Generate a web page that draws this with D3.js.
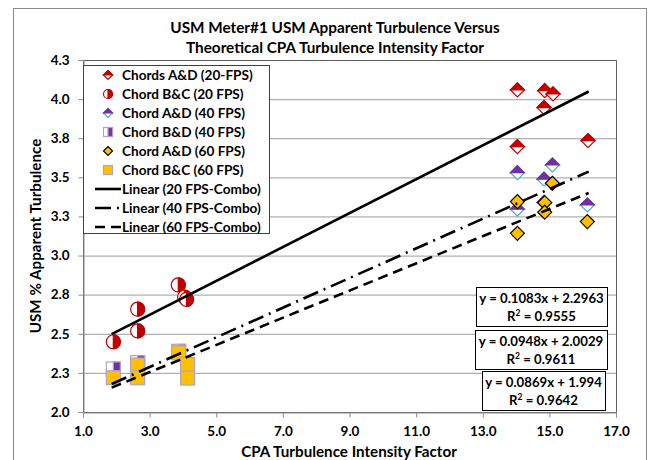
<!DOCTYPE html>
<html lang="en">
<head>
<meta charset="UTF-8">
<title>USM Apparent Turbulence</title>
<script src="https://d3js.org/d3.v7.min.js"></script>
<style>
  body { margin: 0; background: #fff; }
  text { font-family: Lato, "Open Sans", sans-serif; font-weight: bold; fill: #000; }
</style>
</head>
<body>
<script>
    // tick values and their printed labels (Excel rounds 2.25 -> 2.3)
    var yTicks = [2.0, 2.25, 2.5, 2.75, 3.0, 3.25, 3.5, 3.75, 4.0, 4.25];
    var yTickLabels = ["2.0", "2.3", "2.5", "2.8", "3.0", "3.3", "3.5", "3.8", "4.0", "4.3"];
    var xTicks = [1, 3, 5, 7, 9, 11, 13, 15, 17];
    var xTickLabels = ["1.0", "3.0", "5.0", "7.0", "9.0", "11.0", "13.0", "15.0", "17.0"];

    // Chords A&D (20-FPS)
    var ad20X = [14.04, 14.86, 15.11, 14.84, 14.04, 16.16];
    var ad20Y = [4.059, 4.054, 4.033, 3.946, 3.696, 3.735];
    // Chord B&C (20 FPS)
    var bc20X = [1.91, 2.64, 2.64, 3.86, 4.05, 4.11];
    var bc20Y = [2.449, 2.657, 2.518, 2.812, 2.735, 2.72];
    // Chord A&D (40 FPS)
    var ad40X = [14.04, 15.09, 14.84, 14.04, 14.84, 16.14];
    var ad40Y = [3.530, 3.579, 3.488, 3.296, 3.34, 3.323];
    // Chord B&D (40 FPS)
    var bd40X = [1.91, 2.64, 3.87];
    var bd40Y = [2.275, 2.315, 2.388];
    // Chord A&D (60 FPS)
    var ad60X = [14.04, 15.09, 14.86, 14.86, 14.04, 16.14];
    var ad60Y = [3.345, 3.462, 3.338, 3.277, 3.142, 3.217];
    // Chord B&C (60 FPS)
    var bc60X = [1.91, 2.64, 2.64, 3.87, 4.14, 4.14];
    var bc60Y = [2.219, 2.30, 2.219, 2.379, 2.304, 2.217];

    // linear trendlines
    var trendNames = ["Linear (20 FPS-Combo)", "Linear (40 FPS-Combo)", "Linear (60 FPS-Combo)"];
    var trendSlope = [0.1083, 0.0948, 0.0869];
    var trendIntercept = [2.2963, 2.0029, 1.994];
    var trendR2 = ["0.9555", "0.9611", "0.9642"];
    var trendXRange = [1.86, 16.18];

    var w = 649, h = 460;
    // note: "top" is reserved on window, so plot edges get their own names
    var plotL = 83, plotR = 616, plotT = 60, plotB = 412;

    var red = "#c00000", purple = "#7030a0", teal = "#4bacc6", gold = "#ffc000", lilac = "#b3a2c7";

    var svg = d3.select("body").append("svg")
                .attr("width", w)
                .attr("height", h);

    // chart area border
    svg.append("rect")
        .attr("x", 13.5).attr("y", 8.5)
        .attr("width", 633).attr("height", 470)
        .attr("fill", "#fff").attr("stroke", "#8c8c8c");

    var x = d3.scaleLinear().domain([1, 17]).range([plotL, plotR]);
    var y = d3.scaleLinear().domain([2, 4.25]).range([plotB, plotT]);

    // gridlines
    svg.append("g")
        .selectAll("line")
        .data(yTicks.slice(1, -1))
        .join("line")
        .attr("x1", plotL).attr("x2", plotR)
        .attr("y1", d => y(d) + 0.5).attr("y2", d => y(d) + 0.5)
        .attr("stroke", "#b0b0b0").attr("stroke-width", 1.3);

    // plot frame
    svg.append("rect")
        .attr("x", plotL + 0.5).attr("y", plotT + 0.5)
        .attr("width", plotR - plotL).attr("height", plotB - plotT)
        .attr("fill", "none").attr("stroke", "#606060");

    // axes
    var xAxis = d3.axisBottom(x).tickValues(xTicks)
                  .tickFormat((d, i) => xTickLabels[i]).tickSize(5).tickPadding(9);
    var gx = svg.append("g").attr("transform", "translate(0," + (plotB + 0.5) + ")").call(xAxis);
    var yAxis = d3.axisLeft(y).tickValues(yTicks)
                  .tickFormat((d, i) => yTickLabels[i]).tickSize(5).tickPadding(9);
    var gy = svg.append("g").attr("transform", "translate(" + (plotL + 0.5) + ",0)").call(yAxis);
    [gx, gy].forEach(function(g) {
        g.select(".domain").attr("stroke", "#8c8c8c");
        g.selectAll(".tick line").attr("stroke", "#8c8c8c");
        g.selectAll(".tick text").attr("font-size", 13.5).style("font-family", "Lato, sans-serif").style("font-weight", "bold");
    });

    // titles
    var title = svg.append("text").attr("text-anchor", "middle").attr("font-size", 15.3);
    title.append("tspan").attr("x", 335).attr("y", 33).text("USM Meter#1 USM Apparent Turbulence Versus");
    title.append("tspan").attr("x", 335).attr("y", 53).text("Theoretical CPA Turbulence Intensity Factor");

    svg.append("text")
        .attr("x", 349).attr("y", 457)
        .attr("text-anchor", "middle").attr("font-size", 15.2)
        .text("CPA Turbulence Intensity Factor");

    svg.append("text")
        .attr("transform", "translate(41," + ((plotT + plotB) / 2) + ") rotate(-90)")
        .attr("text-anchor", "middle").attr("font-size", 15.2)
        .text("USM % Apparent Turbulence");

    // marker painters
    function diamond(g, s, topFill, bottomFill, stroke) {
        var r = s / 2;
        g.append("path").attr("d", `M0,${-r}L${r},0L0,${r}L${-r},0Z`)
            .attr("fill", bottomFill).attr("stroke", stroke).attr("stroke-width", 1.2);
        if (topFill) {
            g.append("path").attr("d", `M0,${-r}L${r},0L${-r},0Z`)
                .attr("fill", topFill).attr("stroke", topFill).attr("stroke-width", 1.2);
        }
    }
    function halfCircle(g, s) {
        var r = s / 2;
        g.append("circle").attr("r", r).attr("fill", "#fff").attr("stroke", red).attr("stroke-width", 1.2);
        g.append("path").attr("d", `M0,${-r}A${r},${r} 0 0 1 0,${r}Z`).attr("fill", red).attr("stroke", red).attr("stroke-width", 1.2);
    }
    function halfSquare(g, s) {
        var r = s / 2;
        g.append("rect").attr("x", -r).attr("y", -r).attr("width", s).attr("height", s)
            .attr("fill", "#fff").attr("stroke", lilac).attr("stroke-width", 1.2);
        g.append("rect").attr("x", 0).attr("y", -r).attr("width", r).attr("height", s)
            .attr("fill", purple).attr("stroke", lilac).attr("stroke-width", 1.2);
    }
    function goldSquare(g, s) {
        var r = s / 2;
        g.append("rect").attr("x", -r).attr("y", -r).attr("width", s).attr("height", s)
            .attr("fill", gold).attr("stroke", lilac).attr("stroke-width", 1.2);
    }

    var series = [
        { name: "Chords A&D (20-FPS)", xs: ad20X, ys: ad20Y, draw: (g, s) => diamond(g, s, red, "#fff", red) },
        { name: "Chord B&C (20 FPS)",  xs: bc20X, ys: bc20Y, draw: (g, s) => halfCircle(g, s) },
        { name: "Chord A&D (40 FPS)",  xs: ad40X, ys: ad40Y, draw: (g, s) => diamond(g, s, purple, "#fff", teal) },
        { name: "Chord B&D (40 FPS)",  xs: bd40X, ys: bd40Y, draw: (g, s) => halfSquare(g, s) },
        { name: "Chord A&D (60 FPS)",  xs: ad60X, ys: ad60Y, draw: (g, s) => diamond(g, s, null, gold, "#000") },
        { name: "Chord B&C (60 FPS)",  xs: bc60X, ys: bc60Y, draw: (g, s) => goldSquare(g, s) }
    ];

    var dashes = [null, "16,6,2,6", "10,6"];

    // points
    var pts = svg.append("g");
    series.forEach(function(sr) {
        sr.xs.forEach(function(xv, i) {
            var g = pts.append("g").attr("transform", `translate(${x(xv)},${y(sr.ys[i])})`);
            sr.draw(g, 14);
        });
    });

    // trendlines
    var line = d3.line().x(d => x(d[0])).y(d => y(d[1]));
    trendSlope.forEach(function(m, i) {
        var pts2 = trendXRange.map(xv => [xv, m * xv + trendIntercept[i]]);
        svg.append("path").attr("d", line(pts2))
            .attr("fill", "none").attr("stroke", "#000").attr("stroke-width", 2.6)
            .attr("stroke-dasharray", dashes[i]);
    });

    // legend
    var lg = svg.append("g");
    lg.append("rect").attr("x", 83.5).attr("y", 65.5).attr("width", 186).attr("height", 168)
        .attr("fill", "#fff").attr("stroke", "#404040");
    var items = series.map(s => ({ name: s.name, draw: s.draw }))
        .concat(trendNames.map((n, i) => ({ name: n, dash: dashes[i] })));
    items.forEach(function(it, i) {
        var yy = 75 + i * 19;
        if (it.draw) {
            var g = lg.append("g").attr("transform", `translate(108,${yy})`);
            it.draw(g, 9);
        } else {
            lg.append("line").attr("x1", 95).attr("x2", 121).attr("y1", yy).attr("y2", yy)
                .attr("stroke", "#000").attr("stroke-width", 2.6)
                .attr("stroke-dasharray", it.dash);
        }
        lg.append("text").attr("x", 122).attr("y", yy + 5).attr("font-size", 13.6).text(it.name);
    });

    // equation boxes
    var boxes = [[476, 287, 131, 39], [475, 330, 132, 39], [482, 371, 123, 39]];
    trendSlope.forEach(function(m, i) {
        var b = boxes[i];
        svg.append("rect").attr("x", b[0] + 0.5).attr("y", b[1] + 0.5).attr("width", b[2]).attr("height", b[3])
            .attr("fill", "#fff").attr("stroke", "#000");
        var cx = b[0] + b[2] / 2;
        svg.append("text").attr("x", cx).attr("y", b[1] + 16).attr("text-anchor", "middle").attr("font-size", 13.2)
            .text("y = " + m + "x + " + trendIntercept[i]);
        var t = svg.append("text").attr("x", cx).attr("y", b[1] + 34).attr("text-anchor", "middle").attr("font-size", 13.2);
        t.append("tspan").text("R");
        t.append("tspan").attr("dy", -5).attr("font-size", 8.5).text("2");
        t.append("tspan").attr("dy", 5).text(" = " + trendR2[i]);
    });
</script>
</body>
</html>
